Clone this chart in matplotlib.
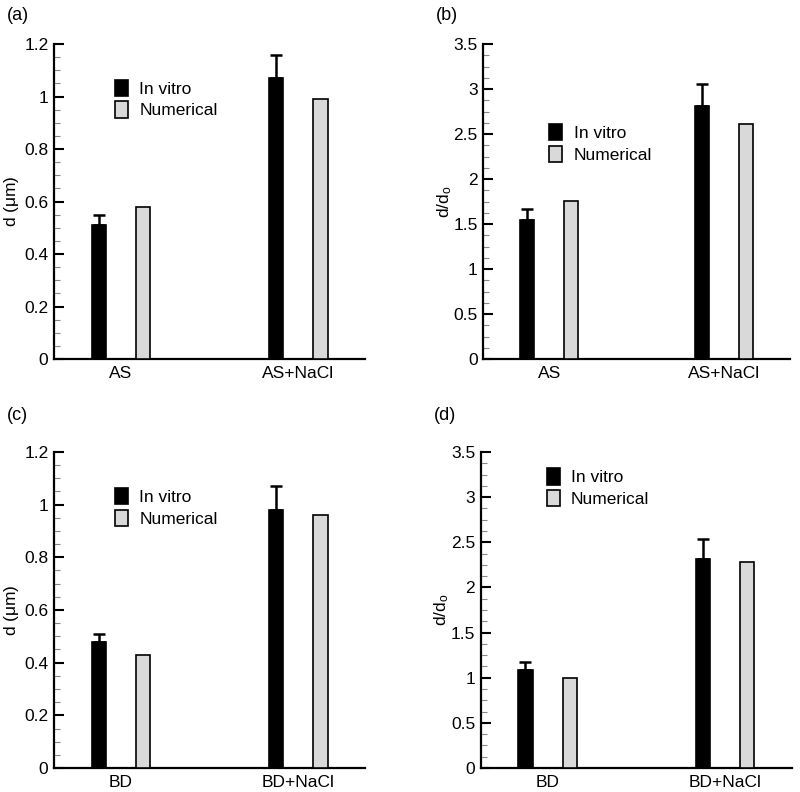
import numpy as np
import matplotlib
matplotlib.use("Agg")
import matplotlib.pyplot as plt
from matplotlib.ticker import MultipleLocator

plt.rcParams['font.family'] = ['Liberation Sans', 'DejaVu Sans']

# data
cats_as = ['AS', 'AS+NaCl']
cats_bd = ['BD', 'BD+NaCl']

d_as_vitro = [0.51, 1.07]
d_as_vitro_err = [0.04, 0.09]
d_as_num = [0.58, 0.99]

r_as_vitro = [1.55, 2.81]
r_as_vitro_err = [0.12, 0.25]
r_as_num = [1.76, 2.61]

d_bd_vitro = [0.48, 0.98]
d_bd_vitro_err = [0.03, 0.09]
d_bd_num = [0.43, 0.96]

r_bd_vitro = [1.09, 2.32]
r_bd_vitro_err = [0.08, 0.22]
r_bd_num = [1.00, 2.28]

panels = [
    # label, axes rect, cats, vitro, err, num, ylim, major, ylabel, legend anchor, ylabel x
    ('(a)', [0.0675, 0.5467, 0.389, 0.3977], cats_as, d_as_vitro, d_as_vitro_err, d_as_num,
     1.2, 0.2, r'd ($\mu$m)', (0.196, 0.887), -0.105),
    ('(b)', [0.604, 0.5467, 0.384, 0.3977], cats_as, r_as_vitro, r_as_vitro_err, r_as_num,
     3.5, 0.5, r'd/d$_\mathregular{o}$', (0.215, 0.745), -0.095),
    ('(c)', [0.0675, 0.0303, 0.389, 0.399], cats_bd, d_bd_vitro, d_bd_vitro_err, d_bd_num,
     1.2, 0.2, r'd ($\mu$m)', (0.196, 0.885), -0.105),
    ('(d)', [0.601, 0.0303, 0.389, 0.399], cats_bd, r_bd_vitro, r_bd_vitro_err, r_bd_num,
     3.5, 0.5, r'd/d$_\mathregular{o}$', (0.212, 0.948), -0.095),
]

plt.rcParams['mathtext.fontset'] = 'custom'
plt.rcParams['mathtext.rm'] = 'Liberation Sans'
plt.rcParams['mathtext.it'] = 'Liberation Sans'

fig = plt.figure(figsize=(8, 7.92), dpi=100)

panel_label_pos = {'(a)': (0.008, 0.981), '(b)': (0.545, 0.981),
                   '(c)': (0.008, 0.476), '(d)': (0.542, 0.476)}

for lab, rect, cats, vitro, err, num, ymax, major, ylabel, leg, ylx in panels:
    ax = fig.add_axes(rect)
    x = np.arange(len(cats))
    w = 0.08
    off = 0.126
    b1 = ax.bar(x - off, vitro, w, color='black', edgecolor='black', linewidth=1.2,
                label='In vitro', zorder=3)
    ax.errorbar(x - off, vitro, yerr=[np.zeros(len(err)), err], fmt='none',
                ecolor='black', elinewidth=1.8, capsize=4.5, capthick=1.8, zorder=2)
    b2 = ax.bar(x + off, num, w, color='#d9d9d9', edgecolor='black', linewidth=1.2,
                label='Numerical', zorder=3)
    ax.set_xlim(-0.378, 1.378)
    ax.set_ylim(0, ymax)
    ax.set_xticks(x)
    ax.set_xticklabels(cats, fontsize=12.5)
    ax.tick_params(axis='x', length=0, pad=5)
    ax.yaxis.set_major_locator(MultipleLocator(major))
    ax.yaxis.set_minor_locator(MultipleLocator(major / 4))
    ax.yaxis.set_major_formatter(plt.FuncFormatter(lambda v, p: f'{v:g}'))
    ax.tick_params(axis='y', which='major', direction='in', length=7, width=1.5,
                   labelsize=12.5, pad=4)
    ax.tick_params(axis='y', which='minor', direction='in', length=4, width=0.8,
                   color='#888888')
    for s in ['top', 'right']:
        ax.spines[s].set_visible(False)
    for s in ['left', 'bottom']:
        ax.spines[s].set_linewidth(1.6)
    ax.set_ylabel(ylabel, fontsize=12.5)
    ax.yaxis.set_label_coords(ylx, 0.5)
    ax.legend(handles=[b1, b2], loc='upper left', bbox_to_anchor=leg, frameon=False,
              fontsize=12.5, handlelength=0.75, handleheight=1.05, handletextpad=0.65,
              labelspacing=0.28, borderpad=0, borderaxespad=0)
    px, py = panel_label_pos[lab]
    fig.text(px, py, lab, fontsize=13, ha='left', va='center')

fig.savefig('out.png', dpi=100)
